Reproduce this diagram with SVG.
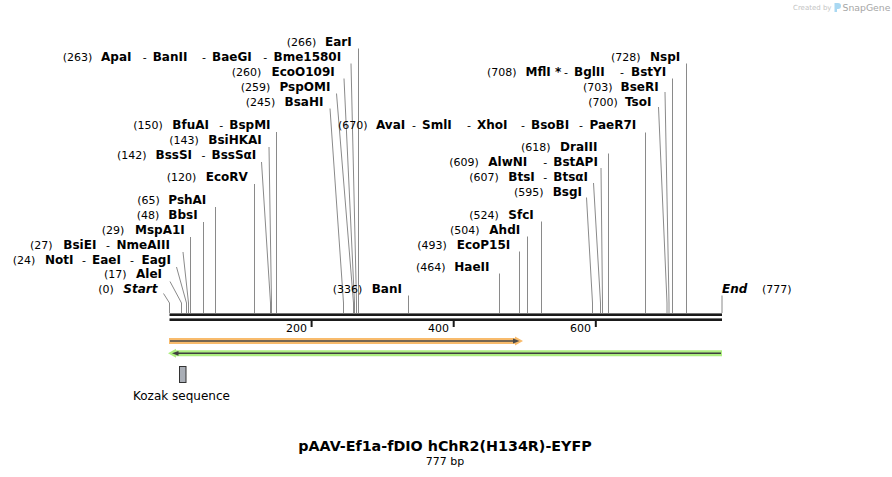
<svg xmlns="http://www.w3.org/2000/svg" width="892" height="477" viewBox="0 0 892 477">
<style>
text{font-family:"DejaVu Sans","Liberation Sans",sans-serif;fill:#000}
.n{font-size:11px}
.b{font-size:12px;font-weight:bold}
.bi{font-size:12px;font-weight:bold;font-style:italic}
.h{font-size:11px}
.ln{stroke:#8a8a8a;stroke-width:1;fill:none}
.tk{fill:#1a1a1a}
.tl{font-size:11px}
</style>
<rect width="892" height="477" fill="#fff"/>

<!-- watermark -->
<g id="watermark">
<text x="793" y="10" style="font-size:7px;fill:#c4c4c4">Created by</text>
<path d="M834.5 3 h3.5 a3 3 0 0 1 0 6 h-1 v3 h-2.5 z" fill="#a9d8f2"/>
<text x="842.5" y="11" style="font-size:9.3px;fill:#a6a6a6">SnapGene</text>
</g>

<!-- connectors -->
<g id="connectors">
<path class="ln" d="M163.5 293.5 L169.5 303 L169.5 313"/>
<path class="ln" d="M170 281.5 L181.5 303 L181.5 313"/>
<path class="ln" d="M176.5 267 L186.5 303 L186.5 313"/>
<path class="ln" d="M183 252 L188.5 303 L188.5 313"/>
<path class="ln" d="M190.5 237 L190.5 313"/>
<path class="ln" d="M203.5 222 L203.5 313"/>
<path class="ln" d="M215.5 207 L215.5 313"/>
<path class="ln" d="M254.5 184 L254.5 313"/>
<path class="ln" d="M261.5 162 L270.5 303 L270.5 313"/>
<path class="ln" d="M269 147 L271.5 303 L271.5 313"/>
<path class="ln" d="M276.5 132 L276.5 313"/>
<path class="ln" d="M330 108.5 L343.5 303 L343.5 313"/>
<path class="ln" d="M336.5 93.5 L353.5 303 L353.5 313"/>
<path class="ln" d="M344 78.5 L354.5 303 L354.5 313"/>
<path class="ln" d="M351 63.5 L356.5 303 L356.5 313"/>
<path class="ln" d="M358.5 48.5 L358.5 313"/>
<path class="ln" d="M408.5 295.5 L408.5 313"/>
<path class="ln" d="M499.5 273.5 L499.5 313"/>
<path class="ln" d="M519.5 251.5 L519.5 313"/>
<path class="ln" d="M527.5 236.5 L527.5 313"/>
<path class="ln" d="M541.5 221.5 L541.5 313"/>
<path class="ln" d="M586.5 197.5 L592.5 303 L592.5 313"/>
<path class="ln" d="M593.5 183 L600.5 303 L600.5 313"/>
<path class="ln" d="M601 168 L602.5 303 L602.5 313"/>
<path class="ln" d="M608.5 153.5 L608.5 313"/>
<path class="ln" d="M645.5 132.5 L645.5 313"/>
<path class="ln" d="M658.5 107 L667 303 L667 313"/>
<path class="ln" d="M665 92 L669 303 L669 313"/>
<path class="ln" d="M672.5 78.5 L672.5 313"/>
<path class="ln" d="M686.5 63.5 L686.5 313"/>
<path class="ln" d="M722 295.5 L722 313"/>
</g>

<!-- sequence backbone -->
<g id="sequence">
<rect x="169.5" y="313.4" width="552.5" height="2.6" fill="#1a1a1a"/>
<rect x="169.5" y="318.4" width="552.5" height="2.6" fill="#1a1a1a"/>
<rect class="tk" x="310.6" y="321" width="2" height="6"/>
<rect class="tk" x="452.7" y="321" width="2" height="6"/>
<rect class="tk" x="594.8" y="321" width="2" height="6"/>
<text class="tl" x="307" y="331.5" text-anchor="end">200</text>
<text class="tl" x="449" y="331.5" text-anchor="end">400</text>
<text class="tl" x="591" y="331.5" text-anchor="end">600</text>
</g>

<!-- features -->
<g id="feature-orange">
<path d="M169 338 H515 V336.5 L523 341 L515 345.5 V344 H169 Z" fill="#f8bb6c"/>
<line x1="170" y1="341" x2="515" y2="341" stroke="#4a4a4a" stroke-width="1.6"/>
<path d="M513 338.6 L519.5 341 L513 343.4 Z" fill="#4a4a4a"/>
</g>
<g id="feature-green">
<path d="M722 350.3 H176 V348.8 L168 353.3 L176 357.8 V356.3 H722 Z" fill="#adee80"/>
<line x1="176" y1="353.3" x2="721" y2="353.3" stroke="#3f3f3f" stroke-width="1.6"/>
<path d="M172 353.3 L178.5 350.9 L178.5 355.7 Z" fill="#3f3f3f"/>
</g>
<g id="kozak">
<rect x="179.5" y="366.5" width="6.5" height="16" fill="#a9aeb6" stroke="#333" stroke-width="1"/>
<text x="133" y="399.5" style="font-size:12px">Kozak sequence</text>
</g>

<!-- enzyme labels -->
<g id="EarI"><text y="45.7"><tspan class="n" x="286.7">(266)</tspan><tspan class="b" x="325">EarI</tspan></text></g>
<g id="ApaI"><text y="60.7"><tspan class="n" x="62.7">(263)</tspan><tspan class="b" x="101">ApaI</tspan><tspan class="h" x="142.7">-</tspan><tspan class="b" x="152.7">BanII</tspan><tspan class="h" x="202">-</tspan><tspan class="b" x="212">BaeGI</tspan><tspan class="h" x="263.3">-</tspan><tspan class="b" x="273.5">Bme1580I</tspan></text></g>
<g id="EcoO109I"><text y="75.7"><tspan class="n" x="231.7">(260)</tspan><tspan class="b" x="271.5">EcoO109I</tspan></text></g>
<g id="PspOMI"><text y="90.7"><tspan class="n" x="240.7">(259)</tspan><tspan class="b" x="279.5">PspOMI</tspan></text></g>
<g id="BsaHI"><text y="105.7"><tspan class="n" x="245.7">(245)</tspan><tspan class="b" x="284.5">BsaHI</tspan></text></g>
<g id="BfuAI"><text y="129.3"><tspan class="n" x="133.3">(150)</tspan><tspan class="b" x="172.3">BfuAI</tspan><tspan class="h" x="219.3">-</tspan><tspan class="b" x="229.3">BspMI</tspan></text></g>
<g id="BsiHKAI"><text y="144.3"><tspan class="n" x="169.3">(143)</tspan><tspan class="b" x="208.3">BsiHKAI</tspan></text></g>
<g id="BssSI"><text y="159.3"><tspan class="n" x="117">(142)</tspan><tspan class="b" x="155.5">BssSI</tspan><tspan class="h" x="201.5">-</tspan><tspan class="b" x="211.5">BssSαI</tspan></text></g>
<g id="EcoRV"><text y="181"><tspan class="n" x="166.7">(120)</tspan><tspan class="b" x="205.7">EcoRV</tspan></text></g>
<g id="PshAI"><text y="204"><tspan class="n" x="137.3">(65)</tspan><tspan class="b" x="168.3">PshAI</tspan></text></g>
<g id="BbsI"><text y="219"><tspan class="n" x="136.7">(48)</tspan><tspan class="b" x="168.3">BbsI</tspan></text></g>
<g id="MspA1I"><text y="234"><tspan class="n" x="101.7">(29)</tspan><tspan class="b" x="135">MspA1I</tspan></text></g>
<g id="BsiEI"><text y="248.8"><tspan class="n" x="30">(27)</tspan><tspan class="b" x="63.3">BsiEI</tspan><tspan class="h" x="106">-</tspan><tspan class="b" x="116.5">NmeAIII</tspan></text></g>
<g id="NotI"><text y="263.5"><tspan class="n" x="12.7">(24)</tspan><tspan class="b" x="45">NotI</tspan><tspan class="h" x="82">-</tspan><tspan class="b" x="92">EaeI</tspan><tspan class="h" x="130">-</tspan><tspan class="b" x="141.5">EagI</tspan></text></g>
<g id="AleI"><text y="278.2"><tspan class="n" x="104">(17)</tspan><tspan class="b" x="136">AleI</tspan></text></g>
<g id="Start"><text y="293"><tspan class="n" x="98.3">(0)</tspan><tspan class="bi" x="123.3">Start</tspan></text></g>
<g id="BanI"><text y="293"><tspan class="n" x="332.7">(336)</tspan><tspan class="b" x="371.7">BanI</tspan></text></g>
<g id="HaeII"><text y="271"><tspan class="n" x="416">(464)</tspan><tspan class="b" x="454.3">HaeII</tspan></text></g>
<g id="EcoP15I"><text y="249"><tspan class="n" x="417.3">(493)</tspan><tspan class="b" x="456.7">EcoP15I</tspan></text></g>
<g id="AhdI"><text y="234"><tspan class="n" x="450">(504)</tspan><tspan class="b" x="489.3">AhdI</tspan></text></g>
<g id="SfcI"><text y="219"><tspan class="n" x="469.3">(524)</tspan><tspan class="b" x="508.3">SfcI</tspan></text></g>
<g id="BsgI"><text y="195.5"><tspan class="n" x="514">(595)</tspan><tspan class="b" x="552.7">BsgI</tspan></text></g>
<g id="BtsI"><text y="180.5"><tspan class="n" x="469.3">(607)</tspan><tspan class="b" x="508.3">BtsI</tspan><tspan class="h" x="543.3">-</tspan><tspan class="b" x="553.3">BtsαI</tspan></text></g>
<g id="AlwNI"><text y="165.5"><tspan class="n" x="449.3">(609)</tspan><tspan class="b" x="488.3">AlwNI</tspan><tspan class="h" x="543.3">-</tspan><tspan class="b" x="553.3">BstAPI</tspan></text></g>
<g id="DraIII"><text y="150.5"><tspan class="n" x="521">(618)</tspan><tspan class="b" x="560">DraIII</tspan></text></g>
<g id="AvaI"><text y="129.3"><tspan class="n" x="338">(670)</tspan><tspan class="b" x="376">AvaI</tspan><tspan class="h" x="412">-</tspan><tspan class="b" x="422">SmlI</tspan><tspan class="h" x="467">-</tspan><tspan class="b" x="477">XhoI</tspan><tspan class="h" x="521">-</tspan><tspan class="b" x="531">BsoBI</tspan><tspan class="h" x="579">-</tspan><tspan class="b" x="589.5">PaeR7I</tspan></text></g>
<g id="TsoI"><text y="105.7"><tspan class="n" x="588.3">(700)</tspan><tspan class="b" x="625">TsoI</tspan></text></g>
<g id="BseRI"><text y="90.7"><tspan class="n" x="583">(703)</tspan><tspan class="b" x="620.5">BseRI</tspan></text></g>
<g id="MflI"><text y="75.7"><tspan class="n" x="487">(708)</tspan><tspan class="b" x="525.5">MflI</tspan><tspan class="b" x="555">*</tspan><tspan class="h" x="564">-</tspan><tspan class="b" x="574">BglII</tspan><tspan class="h" x="620">-</tspan><tspan class="b" x="631">BstYI</tspan></text></g>
<g id="NspI"><text y="60.7"><tspan class="n" x="611">(728)</tspan><tspan class="b" x="650">NspI</tspan></text></g>
<g id="End"><text y="293"><tspan class="bi" x="722">End</tspan><tspan class="n" x="762">(777)</tspan></text></g>

<!-- title -->
<g id="title">
<text x="445" y="451" text-anchor="middle" style="font-size:14.3px;font-weight:bold">pAAV-Ef1a-fDIO hChR2(H134R)-EYFP</text>
<text x="445" y="465" text-anchor="middle" style="font-size:11px">777 bp</text>
</g>
</svg>
